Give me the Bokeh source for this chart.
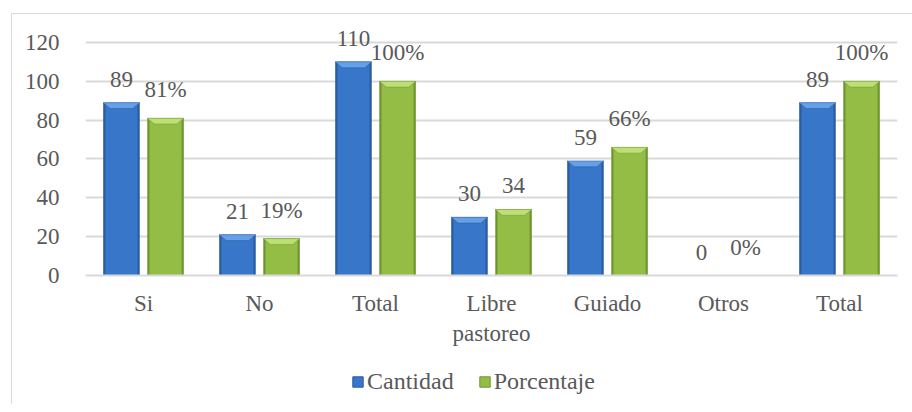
import numpy as np
from bokeh.plotting import figure
from bokeh.layouts import column
from bokeh.models import (Range1d, FixedTicker, Legend, LegendItem, ColumnDataSource)
from bokeh.core.properties import value
from bokeh.embed import file_html
from bokeh.resources import INLINE

categories = ["Si", "No", "Total", "Libre\npastoreo", "Guiado", "Otros", "Total"]
cantidad = [89, 21, 110, 30, 59, 0, 89]
porcentaje = [81, 19, 100, 34, 66, 0, 100]
cantidad_labels = ["89", "21", "110", "30", "59", "0", "89"]
porcentaje_labels = ["81%", "19%", "100%", "34", "66%", "0%", "100%"]
series_names = ["Cantidad", "Porcentaje"]
y_ticks = [0, 20, 40, 60, 80, 100, 120]

FONT = "'Liberation Serif', 'Times New Roman', serif"
TXT = "#595959"
GRID = "#d9d9d9"
FS = "23px"

p = figure(width=900, height=337, output_backend="svg", toolbar_location=None,
           x_range=Range1d(-0.5, len(categories) - 0.5), y_range=Range1d(0, 131.3))
p.min_border_left = 73
p.min_border_top = 6
p.min_border_right = 15
p.min_border_bottom = 76
p.outline_line_color = None
p.background_fill_color = "white"
p.border_fill_color = "white"

idx = np.arange(len(categories))
W = 0.315
OFF = 0.19
BEV_Y = 3.0
BEV_X = 0.06

styles = [
    dict(vals=cantidad, labels=cantidad_labels, off=-OFF, edge="#2a5b9f", main="#3876c9", top="#6aa5ec", name=series_names[0]),
    dict(vals=porcentaje, labels=porcentaje_labels, off=OFF, edge="#6f9530", main="#93bd45", top="#c2e27a", name=series_names[1]),
]

for s in styles:
    xs = idx + s["off"]
    src = ColumnDataSource(dict(x=xs, top=s["vals"], lab=s["labels"]))
    p.vbar(x="x", top="top", bottom=0, width=W, source=src,
           fill_color=s["edge"], line_color=None)
    p.vbar(x="x", top="top", bottom=0, width=W * 0.88, source=src,
           fill_color=s["main"], line_color=None)
    px, py = [], []
    for xc, v in zip(xs, s["vals"]):
        if v <= 0:
            continue
        px.append([xc - W / 2, xc + W / 2, xc + W / 2 - BEV_X, xc - W / 2 + BEV_X])
        py.append([v, v, v - BEV_Y, v - BEV_Y])
    p.patches(px, py, fill_color=s["top"], line_color=s["edge"], line_width=0.5, fill_alpha=0.9)
    p.text(x="x", y="top", text="lab", source=src, text_align="center",
           text_baseline="bottom", y_offset=-16, text_font=value(FONT),
           text_font_size=FS, text_color=TXT)

p.yaxis.ticker = FixedTicker(ticks=y_ticks)
p.yaxis.axis_line_color = None
p.yaxis.major_tick_line_color = None
p.yaxis.minor_tick_line_color = None
p.yaxis.major_label_text_font = FONT
p.yaxis.major_label_text_font_size = FS
p.yaxis.major_label_text_color = TXT
p.yaxis.major_label_standoff = 20

p.xaxis.ticker = FixedTicker(ticks=list(idx))
p.xaxis.major_label_overrides = {int(i): c for i, c in zip(idx, categories)}
p.xaxis.axis_line_color = GRID
p.xaxis.axis_line_width = 2
p.xaxis.major_tick_line_color = None
p.xaxis.minor_tick_line_color = None
p.xaxis.major_label_text_font = FONT
p.xaxis.major_label_text_font_size = FS
p.xaxis.major_label_text_color = TXT
p.xaxis.major_label_standoff = 9

p.xgrid.grid_line_color = None
p.ygrid.grid_line_color = GRID
p.ygrid.grid_line_width = 2

# legend strip below the chart
lg = figure(width=900, height=53, output_backend="svg", toolbar_location=None,
            x_axis_location=None, y_axis_location=None,
            x_range=Range1d(0, 1), y_range=Range1d(0, 1))
lg.min_border_left = 0
lg.min_border_right = 0
lg.min_border_top = 0
lg.min_border_bottom = 0
lg.outline_line_color = None
lg.grid.grid_line_color = None
lg.background_fill_color = "white"
lg.border_fill_color = "white"
items = []
for s in styles:
    r = lg.vbar(x=[np.nan], top=[np.nan], width=W, fill_color=s["main"], line_color=s["edge"])
    items.append(LegendItem(label=s["name"], renderers=[r]))
legend = Legend(items=items, orientation="horizontal", location=(266, 9),
                label_text_font=FONT, label_text_font_size="24px", label_text_color=TXT,
                glyph_width=13, glyph_height=13, label_standoff=3, spacing=24,
                padding=0, margin=0, border_line_color=None, background_fill_alpha=0)
lg.add_layout(legend, "center")

layout = column(p, lg, spacing=0)
layout.margin = (13, 0, 0, 11)
layout.styles = {"border-top": "1px solid #d9d9d9", "border-left": "1px solid #d9d9d9"}

open("out.html", "w").write(file_html(layout, INLINE))
